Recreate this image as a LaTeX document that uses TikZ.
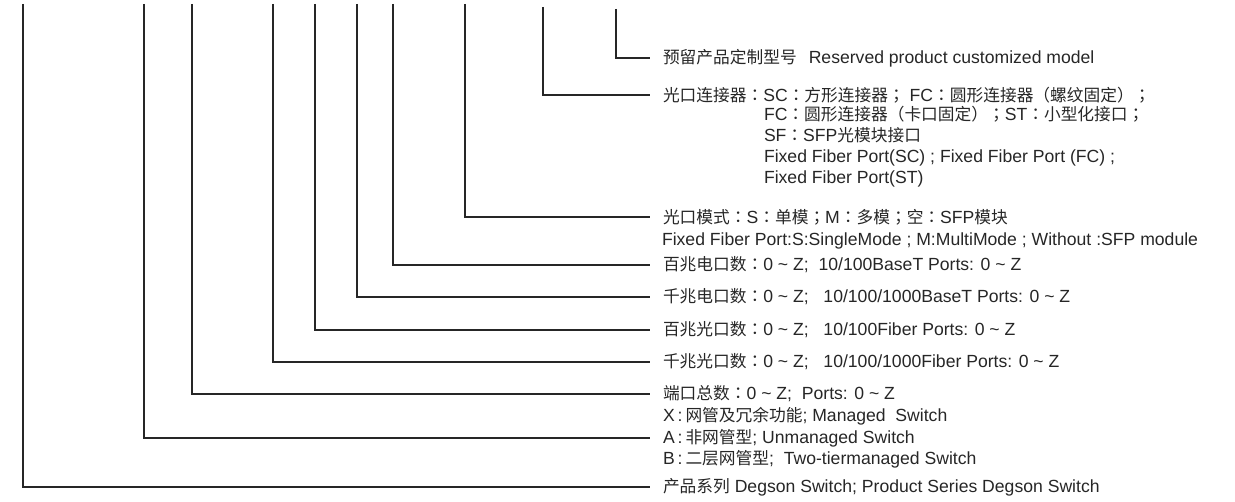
\documentclass[tikz,border=0pt]{standalone}
\usepackage{fontspec}
\setmainfont{Liberation Sans}
\newfontfamily\cjk{Noto Sans CJK SC}[Scale=0.95]
\newfontfamily\cjkp{Noto Sans CJK TC}[Scale=0.95]
\newcommand\zh[1]{{\cjk #1}}
\newcommand\zc{{\cjkp ：}}
\newcommand\zs{{\cjkp ；}}
\newcommand\tld{\textasciitilde}
\usetikzlibrary{positioning}

\begin{document}
\begin{tikzpicture}[x=1pt,y=-1pt,
  wire/.style={line width=1.3pt,black!85},
  lbl/.style={anchor=west,inner xsep=2pt,outer xsep=11pt,inner ysep=1pt,outer ysep=0pt,
    text=black!85,align=left,font=\fontsize{17.6}{21}\selectfont}]
\useasboundingbox (0,0) rectangle (1235,502);

\node[lbl] (resv) at (650,58) {\zh{预留产品定制型号}\hspace{12pt}Reserved product customized model};
\node[lbl] (conn) at (650,95) {\zh{光口连接器}\zc SC\zc\zh{方形连接器}\zs\ FC\zc\zh{圆形连接器（螺纹固定）}\zs};
\node[lbl,anchor=north west] (conndet) at (751,105) {FC\zc\zh{圆形连接器（卡口固定）}\zs ST\zc\zh{小型化接口}\zs\\
  SF\zc SFP\zh{光模块接口}\\
  Fixed Fiber Port(SC) ; Fixed Fiber Port (FC) ;\\
  Fixed Fiber Port(ST)};
\node[lbl] (mode) at (650,217) {\zh{光口模式}\zc S\zc\zh{单模}\zs M\zc\zh{多模}\zs\zh{空}\zc SFP\zh{模块}};
\node[lbl] (modeen) at (649,241) {Fixed Fiber Port:S:SingleMode ; M:MultiMode ; Without :SFP module};
\node[lbl] (fcu) at (650,265) {\zh{百兆电口数}\zc 0 \tld{} Z;\ \ 10/100BaseT Ports: 0 \tld{} Z};
\node[lbl] (gcu) at (650,297) {\zh{千兆电口数}\zc 0 \tld{} Z;\ \ \ 10/100/1000BaseT Ports: 0 \tld{} Z};
\node[lbl] (ffib) at (650,330) {\zh{百兆光口数}\zc 0 \tld{} Z;\ \ \ 10/100Fiber Ports: 0 \tld{} Z};
\node[lbl] (gfib) at (650,362) {\zh{千兆光口数}\zc 0 \tld{} Z;\ \ \ 10/100/1000Fiber Ports: 0 \tld{} Z};
\node[lbl] (ports) at (650,394) {\zh{端口总数}\zc 0 \tld{} Z;\ \ Ports: 0 \tld{} Z};
\node[lbl,font=\fontsize{17.6}{21.5}\selectfont] (type) at (650,438) {X\,:\,\zh{网管及冗余功能}; Managed\ \ Switch\\
  A\,:\,\zh{非网管型}; Unmanaged Switch\\
  B\,:\,\zh{二层网管型};\ \ Two-tiermanaged Switch};
\node[lbl] (series) at (650,487) {\zh{产品系列} Degson Switch; Product Series Degson Switch};

\coordinate (series0) at (23,4);
\coordinate (type0) at (144,4);
\coordinate (ports0) at (192,4);
\coordinate (gfib0) at (273,4);
\coordinate (ffib0) at (315,4);
\coordinate (gcu0) at (357,4);
\coordinate (fcu0) at (393,4);
\coordinate (mode0) at (465,4);
\coordinate (conn0) at (543,7);
\coordinate (resv0) at (616,9);

\draw[wire] (series0) |- (series.west);
\draw[wire] (type0) |- (type.west);
\draw[wire] (ports0) |- (ports.west);
\draw[wire] (gfib0) |- (gfib.west);
\draw[wire] (ffib0) |- (ffib.west);
\draw[wire] (gcu0) |- (gcu.west);
\draw[wire] (fcu0) |- (fcu.west);
\draw[wire] (mode0) |- (mode.west);
\draw[wire] (conn0) |- (conn.west);
\draw[wire] (resv0) |- (resv.west);
\end{tikzpicture}
\end{document}
